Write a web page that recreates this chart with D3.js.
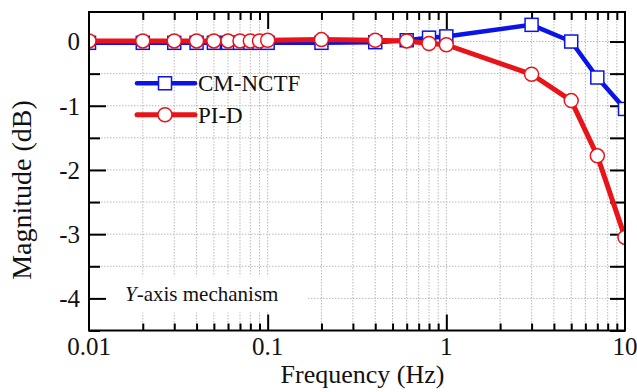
<!DOCTYPE html>
<meta charset="utf-8">
<style>
body { margin: 0; background: #fff; }
text { font-family: "Liberation Serif", "Times New Roman", serif; fill: #111; }
.grid line { stroke: #b8b8b8; stroke-width: 1; stroke-dasharray: 1.5,1.5; }
.frame { fill: none; stroke: #000; stroke-width: 2; }
.tick line { stroke: #000; stroke-width: 2; }
.line { fill: none; stroke-linejoin: round; }
</style>
<svg width="637" height="392"></svg>
<script src="https://cdn.jsdelivr.net/npm/d3@7"></script>
<script>

// data
var freq = [0.01, 0.02, 0.03, 0.04, 0.05, 0.06, 0.07, 0.08, 0.09, 0.1, 0.2, 0.4, 0.6, 0.8, 1, 3, 5, 7, 10];
var cmNctf = [-0.02, -0.02, -0.02, -0.02, -0.02, -0.02, -0.02, -0.02, -0.02, -0.02, -0.02, -0.01, 0.02, 0.06, 0.08, 0.26, 0.0, -0.56, -1.05];
var piD = [0.01, 0.01, 0.01, 0.01, 0.01, 0.01, 0.01, 0.01, 0.01, 0.02, 0.03, 0.02, 0.01, -0.03, -0.05, -0.51, -0.92, -1.78, -3.05];

var xMajor = [0.01, 0.1, 1, 10];
var xMajorLabels = ["0.01", "0.1", "1", "10"];
var yMajor = [0, -1, -2, -3, -4];
var yMajorLabels = ["0", "-1", "-2", "-3", "-4"];

var serif = "'Liberation Serif', 'Times New Roman', serif";

var svg = d3.select("svg");
var margin = {top: 12, right: 12, bottom: 61.5, left: 89},
    width = 637 - margin.left - margin.right,
    height = 392 - margin.top - margin.bottom;

var g = svg.append("g")
    .attr("transform", "translate(" + margin.left + "," + margin.top + ")");

var x = d3.scaleLog().domain([0.01, 10]).range([0, width]);
var y = d3.scaleLinear().domain([-4.5, 0.46]).range([height, 0]);

// all decade subdivisions
var xAll = [];
[0.01, 0.1, 1].forEach(function(d) {
  for (var k = 1; k < 10; k++) xAll.push(+(d * k).toPrecision(3));
});
xAll.push(10);
var xMinor = xAll.filter(function(d) { return xMajor.indexOf(d) < 0; });
var yAll = d3.range(-4.5, 0.5, 0.5);
var yMinor = yAll.filter(function(d) { return yMajor.indexOf(d) < 0; });

// grid
var grid = g.append("g").attr("class", "grid");
grid.selectAll(".gx").data(xAll).enter().append("line")
    .attr("x1", function(d) { return x(d); }).attr("x2", function(d) { return x(d); })
    .attr("y1", 0).attr("y2", height);
grid.selectAll(".gy").data(yAll).enter().append("line")
    .attr("x1", 0).attr("x2", width)
    .attr("y1", function(d) { return y(d); }).attr("y2", function(d) { return y(d); });

// annotation box hides grid
g.append("rect")
    .attr("x", 3).attr("y", y(-4) - 22)
    .attr("width", 215).attr("height", 36)
    .attr("fill", "#fff");
var ann = g.append("text")
    .attr("x", 36).attr("y", y(-4) + 3)
    .style("font-family", serif)
    .style("font-size", "21px");
ann.append("tspan").style("font-style", "italic").text("Y");
ann.append("tspan").text("-axis mechanism");

// axes (inward ticks)
function addAxis(axis, vals, size, tr) {
  g.append("g")
      .attr("transform", tr || null)
      .call(axis.tickValues(vals).tickSize(size).tickFormat(""))
      .call(function(s) { s.select(".domain").remove(); });
}
addAxis(d3.axisBottom(x), xMinor, -7, "translate(0," + height + ")");
addAxis(d3.axisBottom(x), [0.1, 1], -16, "translate(0," + height + ")");
addAxis(d3.axisTop(x), xMinor, -8);
addAxis(d3.axisTop(x), [0.1, 1], -17);
addAxis(d3.axisLeft(y), yMinor, -11);
addAxis(d3.axisLeft(y), yMajor, -17);
addAxis(d3.axisRight(y), yAll, -15, "translate(" + width + ",0)");

// tick labels
g.selectAll(".xl").data(xMajor).enter().append("text")
    .attr("x", function(d) { return x(d); })
    .attr("y", height + 24.5)
    .attr("text-anchor", "middle")
    .style("font-family", serif)
    .style("font-size", "25px")
    .text(function(d, i) { return xMajorLabels[i]; });
g.selectAll(".yl").data(yMajor).enter().append("text")
    .attr("x", -9)
    .attr("y", function(d) { return y(d); })
    .attr("dy", "0.35em")
    .attr("text-anchor", "end")
    .style("font-family", serif)
    .style("font-size", "25px")
    .text(function(d, i) { return yMajorLabels[i]; });

g.append("text")
    .attr("x", 273.5).attr("y", height + 52.5)
    .attr("text-anchor", "middle")
    .style("font-family", serif)
    .style("font-size", "26px")
    .text("Frequency (Hz)");
g.append("text")
    .attr("transform", "translate(-58," + 178 + ") rotate(-90)")
    .attr("text-anchor", "middle")
    .style("font-family", serif)
    .style("font-size", "28px")
    .text("Magnitude (dB)");

// series
g.append("clipPath").attr("id", "clip")
  .append("rect").attr("width", width).attr("height", height);

var series = [
  {name: "CM-NCTF", values: cmNctf, color: "#0a14e6", width: 4.5, marker: "square"},
  {name: "PI-D", values: piD, color: "#e8141a", width: 5, marker: "circle"}
];

var plot = g.append("g").attr("clip-path", "url(#clip)");
var line = d3.line()
    .x(function(d) { return x(d[0]); })
    .y(function(d) { return y(d[1]); });

series.forEach(function(s) {
  var pts = freq.map(function(f, i) { return [f, s.values[i]]; });
  var sg = plot.append("g");
  sg.append("path").attr("class", "line")
      .attr("d", line(pts))
      .style("stroke", s.color)
      .style("stroke-width", s.width);
  drawMarkers(sg, pts, s);
});

function drawMarkers(sel, pts, s) {
  if (s.marker === "square") {
    sel.selectAll("rect.m").data(pts).enter().append("rect")
        .attr("class", "m")
        .attr("x", function(d) { return x(d[0]) - 6.5; })
        .attr("y", function(d) { return y(d[1]) - 6.5; })
        .attr("width", 13).attr("height", 13)
        .attr("fill", "#fff").attr("stroke", s.color).attr("stroke-width", 1.5);
  } else {
    sel.selectAll("circle.m").data(pts).enter().append("circle")
        .attr("class", "m")
        .attr("cx", function(d) { return x(d[0]); })
        .attr("cy", function(d) { return y(d[1]); })
        .attr("r", 7)
        .attr("fill", "#fff").attr("stroke", s.color).attr("stroke-width", 1.5);
  }
}

// legend
var legend = g.selectAll(".legend").data(series).enter().append("g")
    .attr("transform", function(d, i) { return "translate(48," + (y(-0.65) + i * 31.5) + ")"; });
legend.append("line")
    .attr("x1", 0).attr("x2", 58)
    .style("stroke", function(d) { return d.color; })
    .style("stroke-width", function(d) { return d.width; })
    .style("stroke-linecap", "round");
legend.each(function(d) { drawMarkers(d3.select(this), [[x.invert(28), y.invert(0)]], d); });
legend.append("text")
    .attr("x", 61).attr("dy", "0.35em")
    .style("font-family", serif)
    .style("font-size", "23px")
    .text(function(d) { return d.name; });

g.append("rect").attr("class", "frame").attr("width", width).attr("height", height);

</script>
